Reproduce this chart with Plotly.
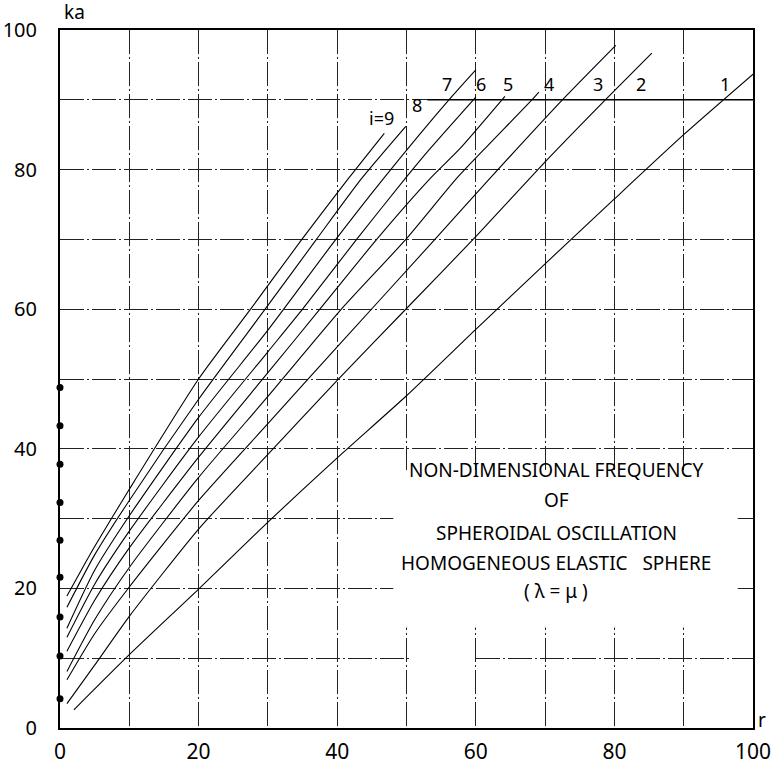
import plotly.graph_objects as go

# ---- data ----
c1_r = [2, 10, 20, 30, 40, 50, 60, 70, 80, 90, 100.4]
c1_ka = [2.6, 10.5, 19.9, 29.5, 38.7, 47.6, 57.1, 66.5, 75.8, 85.0, 94.0]

c2_r = [1, 5, 10, 20, 30, 40, 50, 60, 70, 78.9, 85.4]
c2_ka = [3.5, 9.0, 16.0, 28.5, 39.2, 49.8, 60.1, 70.4, 81.1, 90.2, 96.7]

c3_r = [1, 5, 10, 20, 30, 40, 54.1, 62, 72.7, 80.2]
c3_ka = [6.9, 13.5, 20.2, 32.6, 43.6, 54.6, 70.0, 78.7, 90.2, 97.8]

c4_r = [1, 5, 10, 20, 30, 40.6, 49.9, 57.2, 61.3, 68.3, 69.1]
c4_ka = [8.1, 15.5, 23.0, 35.9, 47.5, 60.0, 70.0, 78.7, 83.0, 90.2, 91.1]

c5_r = [1, 5, 10, 20, 30, 37.5, 45.7, 53.4, 57.7, 64.2]
c5_ka = [11.0, 18.3, 25.8, 38.8, 50.9, 60.0, 70.0, 78.7, 83.0, 90.5]

c6_r = [1, 5, 10, 20, 30, 35, 42.8, 49.8, 53.4, 60]
c6_ka = [13.0, 20.6, 28.2, 41.7, 53.9, 60.0, 70.0, 78.7, 83.0, 90.4]

c7_r = [1, 5, 10, 20, 30, 39.8, 46.5, 56.3, 60]
c7_ka = [14.3, 22.6, 30.4, 44.5, 57.0, 70.0, 78.5, 90.2, 94.3]

c8_r = [1, 5, 10, 20, 29.6, 37, 43.5, 49.9]
c8_ka = [17.3, 24.8, 32.6, 47.1, 60.0, 70.0, 78.7, 86.2]

c9_r = [1, 3, 5, 10, 20, 27.5, 34.9, 41.6, 46.8]
c9_ka = [18.9, 22.5, 26.0, 34.2, 50.0, 60.0, 70.0, 78.7, 85.2]

radial_ka = [4.2, 10.3, 15.9, 21.6, 26.9, 32.3, 37.8, 43.3, 48.8]

curve_labels = ["1", "2", "3", "4", "5", "6", "7", "8", "i=9"]
label_r = [96.0, 83.9, 77.7, 70.5, 64.7, 60.8, 55.8, 51.5, 46.4]
label_ka = [92.3, 92.3, 92.3, 92.3, 92.3, 92.3, 92.3, 89.2, 87.4]

x_ticks = [0, 20, 40, 60, 80, 100]
y_ticks = [0, 20, 40, 60, 80, 100]

title_lines = [
    "NON-DIMENSIONAL FREQUENCY",
    "OF",
    "SPHEROIDAL OSCILLATION",
    "HOMOGENEOUS ELASTIC \u00a0 SPHERE",
    "( \u03bb = \u03bc )",
]

curves = [(c1_r, c1_ka), (c2_r, c2_ka), (c3_r, c3_ka), (c4_r, c4_ka), (c5_r, c5_ka),
          (c6_r, c6_ka), (c7_r, c7_ka), (c8_r, c8_ka), (c9_r, c9_ka)]

FONT = "Noto Sans"

fig = go.Figure()
for i, (rr, kk) in enumerate(curves):
    fig.add_trace(go.Scatter(x=rr, y=kk, mode="lines", name=curve_labels[i],
                             line=dict(color="black", width=1.1, shape="spline", smoothing=0.6),
                             showlegend=False, hoverinfo="skip"))

fig.add_trace(go.Scatter(x=[0] * len(radial_ka), y=radial_ka, mode="markers",
                         marker=dict(color="black", size=7), showlegend=False,
                         cliponaxis=False, hoverinfo="skip"))

shapes = []
# white panel behind the caption
shapes.append(dict(type="rect", xref="x", yref="y", x0=48.1, x1=97.8, y0=14.4, y1=36.8,
                   fillcolor="white", line=dict(width=0), layer="above"))
shapes.append(dict(type="rect", xref="x", yref="y", x0=50.4, x1=59.6, y0=9.3, y1=10.7,
                   fillcolor="white", line=dict(width=0), layer="above"))
# label baseline
shapes.append(dict(type="line", xref="x", yref="y", x0=53.0, x1=100, y0=90, y1=90,
                   line=dict(color="black", width=1.6), layer="above"))

annotations = []
for t, xr, yk in zip(curve_labels, label_r, label_ka):
    annotations.append(dict(x=xr, y=yk, xref="x", yref="y", text=t, showarrow=False,
                            font=dict(family=FONT, size=18, color="black")))

line_y_px = [470, 500, 533, 563, 591]
for t, py in zip(title_lines, line_y_px):
    annotations.append(dict(x=71.6, y=(728.3 - py) / 6.98, xref="x", yref="y", text=t,
                            showarrow=False, font=dict(family=FONT, size=19, color="black")))

annotations.append(dict(x=0.0216, y=1.026, xref="paper", yref="paper", text="ka", showarrow=False,
                        xanchor="center", yanchor="middle",
                        font=dict(family=FONT, size=19, color="black")))
annotations.append(dict(x=1.013, y=0.012, xref="paper", yref="paper", text="r", showarrow=False,
                        xanchor="center", yanchor="middle",
                        font=dict(family=FONT, size=19, color="black")))

grid_dash = "24px,3px,2px,3px"
fig.update_layout(
    width=771, height=767,
    margin=dict(l=60, r=18, t=30, b=39, autoexpand=False),
    paper_bgcolor="white", plot_bgcolor="white",
    shapes=shapes, annotations=annotations,
    font=dict(family=FONT, size=21, color="black"),
    xaxis=dict(range=[0, 100], tickvals=x_ticks, ticktext=[str(v) for v in x_ticks],
               showgrid=True, gridcolor="#222", gridwidth=1, griddash=grid_dash,
               showline=True, linecolor="black", linewidth=2, mirror=True,
               ticks="", ticklabelstandoff=4, zeroline=False, automargin=False,
               ticklabeloverflow="allow",
               minor=dict(dtick=10, showgrid=True, gridcolor="#222", gridwidth=1, griddash=grid_dash)),
    yaxis=dict(range=[0, 100], tickvals=y_ticks, ticktext=[str(v) for v in y_ticks],
               showgrid=True, gridcolor="#222", gridwidth=1, griddash=grid_dash,
               showline=True, linecolor="black", linewidth=2, mirror=True,
               ticks="", ticklabelstandoff=17, zeroline=False, automargin=False,
               ticklabeloverflow="allow", tickfont=dict(size=20),
               minor=dict(dtick=10, showgrid=True, gridcolor="#222", gridwidth=1, griddash=grid_dash)),
)

fig.write_html("out.html")
